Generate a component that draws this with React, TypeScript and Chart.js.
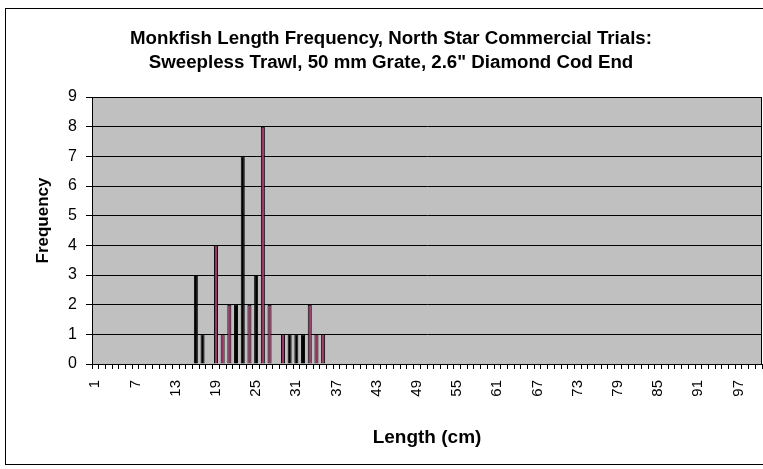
import React, { useEffect, useRef } from "react";
import { Chart, registerables } from "chart.js";

Chart.register(...registerables);

// Length classes (cm) 1..100
const lengthLabels: string[] = Array.from({ length: 100 }, (_, i) => String(i + 1));

// Frequency for each length class 1..100
const frequency: number[] = [
  0, 0, 0, 0, 0, 0, 0, 0, 0, 0,
  0, 0, 0, 0, 0, 3, 1, 0, 4, 1,
  2, 2, 7, 2, 3, 8, 2, 0, 1, 1,
  1, 1, 2, 1, 1, 0, 0, 0, 0, 0,
  0, 0, 0, 0, 0, 0, 0, 0, 0, 0,
  0, 0, 0, 0, 0, 0, 0, 0, 0, 0,
  0, 0, 0, 0, 0, 0, 0, 0, 0, 0,
  0, 0, 0, 0, 0, 0, 0, 0, 0, 0,
  0, 0, 0, 0, 0, 0, 0, 0, 0, 0,
  0, 0, 0, 0, 0, 0, 0, 0, 0, 0,
];

const yTicks: number[] = [0, 1, 2, 3, 4, 5, 6, 7, 8, 9];

const titleLines: string[] = [
  "Monkfish Length Frequency, North Star Commercial Trials:",
  'Sweepless Trawl, 50 mm Grate, 2.6" Diamond Cod End',
];
const yAxisTitle = "Frequency";
const xAxisTitle = "Length (cm)";

// bars that render as solid dark in the reference
const darkBarLengths: number[] = [16, 17, 22, 23, 25, 30, 31, 32];

const FONT = "'Liberation Sans', Arial, sans-serif";

export default function App() {
  const ref = useRef<HTMLCanvasElement | null>(null);

  useEffect(() => {
    const prevOverflow = document.body.style.overflow;
    document.body.style.overflow = "hidden";
    const canvas = ref.current;
    if (!canvas) return;

    const bgPlugin = {
      id: "bgPlugin",
      beforeDraw(chart: any) {
        const { ctx, chartArea } = chart;
        ctx.save();
        ctx.fillStyle = "#C0C0C0";
        ctx.fillRect(chartArea.left, chartArea.top, chartArea.right - chartArea.left, chartArea.bottom - chartArea.top);
        ctx.restore();
      },
      afterDraw(chart: any) {
        const { ctx, chartArea, width } = chart;
        ctx.save();
        ctx.strokeStyle = "#000";
        ctx.lineWidth = 1;
        ctx.strokeRect(
          Math.round(chartArea.left) + 0.5,
          Math.round(chartArea.top) + 0.5,
          Math.round(chartArea.right - chartArea.left) - 1,
          Math.round(chartArea.bottom - chartArea.top)
        );
        ctx.fillStyle = "#000";
        ctx.font = `bold 18.7px ${FONT}`;
        ctx.textAlign = "center";
        ctx.textBaseline = "middle";
        titleLines.forEach((line, i) => {
          ctx.fillText(line, width / 2, 30 + i * 24);
        });
        // y axis title
        ctx.font = `bold 17px ${FONT}`;
        ctx.translate(37, chartArea.top + (chartArea.bottom - chartArea.top) / 2 - 10);
        ctx.rotate(-Math.PI / 2);
        ctx.fillText(yAxisTitle, 0, 0);
        ctx.restore();
      },
    };

    const chart = new Chart(canvas, {
      type: "bar",
      data: {
        labels: lengthLabels,
        datasets: [
          {
            label: "Frequency",
            data: frequency,
            backgroundColor: lengthLabels.map((l) =>
              darkBarLengths.includes(Number(l)) ? "#000000" : "#993366"
            ),
            borderColor: "#000000",
            borderWidth: 1,
            barPercentage: 0.6,
            categoryPercentage: 1,
          },
        ],
      },
      options: {
        animation: false,
        responsive: true,
        maintainAspectRatio: false,
        layout: { padding: { top: 88, right: 14, bottom: 0, left: 0 } },
        plugins: {
          legend: { display: false },
          title: { display: false },
          tooltip: { enabled: false },
        },
        scales: {
          x: {
            offset: true,
            grid: {
              display: true,
              offset: true,
              drawOnChartArea: false,
              drawTicks: true,
              tickLength: 5,
              color: "#000",
              lineWidth: 1,
            },
            border: { display: true, color: "#000", width: 1 },
            ticks: {
              autoSkip: false,
              maxRotation: 90,
              minRotation: 90,
              padding: 11,
              color: "#000",
              font: { family: FONT, size: 15 },
              callback: (_v: any, idx: number) => (idx % 6 === 0 ? lengthLabels[idx] : ""),
            },
            title: {
              display: true,
              text: xAxisTitle,
              color: "#000",
              font: { family: FONT, size: 19, weight: "bold" },
              padding: { top: 0, bottom: 15 },
            },
            afterFit: (scale: any) => {
              scale.height = 100;
              scale.paddingLeft = 0;
              scale.paddingRight = 0;
            },
          },
          y: {
            min: 0,
            max: 9,
            afterBuildTicks: (scale: any) => {
              scale.ticks = yTicks.map((v) => ({ value: v }));
            },
            grid: {
              color: "#000",
              lineWidth: 1,
              drawTicks: true,
              tickLength: 6,
            },
            border: { display: true, color: "#000", width: 1 },
            ticks: {
              stepSize: 1,
              padding: 9,
              color: "#000",
              font: { family: FONT, size: 16 },
            },
            title: { display: false },
            afterFit: (scale: any) => {
              scale.width = 86;
            },
          },
        },
      },
      plugins: [bgPlugin],
    } as any);

    return () => {
      chart.destroy();
      document.body.style.overflow = prevOverflow;
    };
  }, []);

  return (
    <div
      style={{
        position: "fixed",
        left: 5,
        top: 8,
        width: 770,
        height: 455,
        border: "1px solid #000",
        background: "#fff",
      }}
    >
      <canvas ref={ref} />
    </div>
  );
}
